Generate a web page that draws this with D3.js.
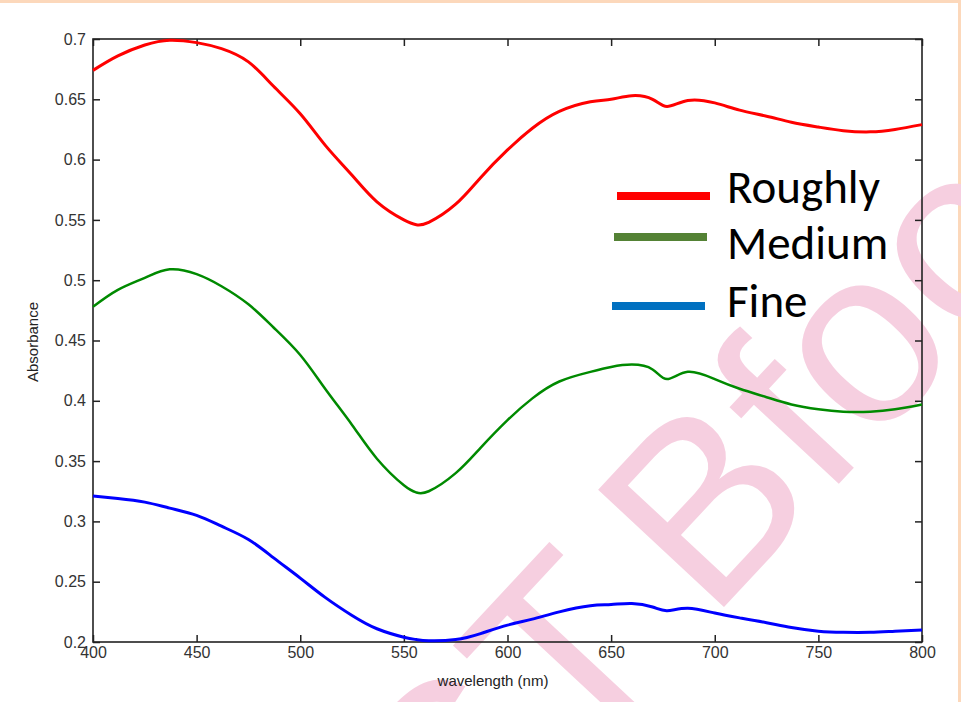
<!DOCTYPE html>
<html>
  <head>
    <meta charset="UTF-8" />
    <script src="https://d3js.org/d3.v7.min.js"></script>
    <style>
      body { margin: 0; background: #fff; }
    </style>
  </head>
  <body>
    <div id="chart"></div>
    <script>
      // data
      const wavelength = [400, 412, 425, 437, 450, 462, 475, 487, 500, 512, 525, 537, 550, 556, 562, 575, 587, 600, 612, 625, 640, 650, 660, 670, 677, 687, 700, 712, 725, 737, 750, 762, 775, 787, 800];
      const roughly = [0.674, 0.686, 0.695, 0.699, 0.697, 0.692, 0.681, 0.661, 0.638, 0.612, 0.587, 0.565, 0.550, 0.546, 0.548, 0.563, 0.585, 0.608, 0.626, 0.640, 0.648, 0.650, 0.653, 0.650, 0.644, 0.649, 0.647, 0.641, 0.636, 0.631, 0.627, 0.624, 0.623, 0.625, 0.629];
      const medium = [0.478, 0.492, 0.502, 0.509, 0.505, 0.495, 0.480, 0.461, 0.438, 0.410, 0.380, 0.352, 0.330, 0.324, 0.325, 0.340, 0.361, 0.384, 0.402, 0.416, 0.424, 0.428, 0.430, 0.426, 0.418, 0.424, 0.418, 0.410, 0.403, 0.397, 0.393, 0.391, 0.391, 0.393, 0.397];
      const fine = [0.321, 0.319, 0.316, 0.311, 0.305, 0.296, 0.285, 0.270, 0.253, 0.237, 0.222, 0.211, 0.204, 0.202, 0.201, 0.202, 0.207, 0.214, 0.219, 0.225, 0.230, 0.231, 0.232, 0.229, 0.226, 0.228, 0.224, 0.220, 0.216, 0.212, 0.209, 0.208, 0.208, 0.209, 0.210];

      const seriesNames = ["Roughly", "Medium", "Fine"];
      const xTicks = [400, 450, 500, 550, 600, 650, 700, 750, 800];
      const yTicks = [0.2, 0.25, 0.3, 0.35, 0.4, 0.45, 0.5, 0.55, 0.6, 0.65, 0.7];

      const lineColors = ["#ff0000", "#008a00", "#0000ff"];
      const legendColors = ["#ff0000", "#548235", "#0070c0"];
      const lineWidths = [3, 2.5, 3];

      const W = 961, H = 702;
      const margin = { top: 39, right: 39, bottom: 60, left: 93 };
      const width = W - margin.left - margin.right,
        height = H - margin.top - margin.bottom;

      const svg = d3.select("#chart").append("svg")
        .attr("width", W).attr("height", H);

      // peach frame of the slide
      svg.append("rect").attr("x", 0).attr("y", 0).attr("width", W).attr("height", 3).attr("fill", "#fcd8bb");
      svg.append("rect").attr("x", 958).attr("y", 0).attr("width", 3).attr("height", H).attr("fill", "#fcd8bb");

      // watermark, letters placed one by one along a rotated baseline
      const wm = svg.append("g").attr("transform", "translate(461,889) rotate(-47)");
      const wmLetters = ["S", "T", "B", "f", "o", "o"];
      const wmOffsets = [0, 167, 365, 532, 601, 740];
      wmLetters.forEach((c, i) => {
        wm.append("text")
          .attr("x", wmOffsets[i]).attr("y", 0)
          .attr("font-family", "Liberation Sans, Arial, sans-serif")
          .attr("font-size", 250)
          .attr("fill", "#f6cfe0")
          .text(c);
      });

      const g = svg.append("g").attr("transform", `translate(${margin.left},${margin.top})`);

      const x = d3.scaleLinear().domain([400, 800]).range([0, width]);
      const y = d3.scaleLinear().domain([0.2, 0.7]).range([height, 0]);

      const tickFont = "Liberation Sans, Arial, sans-serif";

      const xAxis = g.append("g").attr("transform", `translate(0,${height})`)
        .call(d3.axisBottom(x).tickValues(xTicks).tickSizeInner(-7).tickSizeOuter(0).tickPadding(5).tickFormat(d3.format("d")));
      const yAxis = g.append("g")
        .call(d3.axisLeft(y).tickValues(yTicks).tickSizeInner(-7).tickSizeOuter(0).tickPadding(7).tickFormat(d => String(+d.toFixed(2))));
      const topAxis = g.append("g")
        .call(d3.axisTop(x).tickValues(xTicks).tickSizeInner(-7).tickSizeOuter(0).tickFormat(""));
      const rightAxis = g.append("g").attr("transform", `translate(${width},0)`)
        .call(d3.axisRight(y).tickValues(yTicks).tickSizeInner(-7).tickSizeOuter(0).tickFormat(""));

      [xAxis, yAxis, topAxis, rightAxis].forEach(a => {
        a.select(".domain").remove();
        a.selectAll("line").attr("stroke", "#222").attr("stroke-width", 1.5);
        a.selectAll("text").attr("font-family", tickFont).attr("font-size", 16).attr("fill", "#333");
      });

      g.append("rect").attr("width", width).attr("height", height)
        .attr("fill", "none").attr("stroke", "#222").attr("stroke-width", 1.6);

      // axis titles
      g.append("text").attr("x", 400).attr("y", height + 44)
        .attr("text-anchor", "middle").attr("font-family", tickFont).attr("font-size", 15).attr("fill", "#222")
        .text("wavelength (nm)");
      svg.append("text").attr("transform", "translate(38,342) rotate(-90)")
        .attr("text-anchor", "middle").attr("font-family", tickFont).attr("font-size", 15).attr("fill", "#222")
        .text("Absorbance");

      // curves
      const series = [roughly, medium, fine];
      const line = d3.line().x((d, i) => x(wavelength[i])).y(d => y(d)).curve(d3.curveNatural);
      series.forEach((s, k) => {
        g.append("path").datum(s)
          .attr("d", line)
          .attr("fill", "none")
          .attr("stroke", lineColors[k])
          .attr("stroke-width", lineWidths[k]);
      });

      // legend
      const legendY = [196, 237, 306];
      const legendTextY = [203, 259, 317];
      const legendX = [617, 614, 612];
      seriesNames.forEach((name, k) => {
        svg.append("line")
          .attr("x1", legendX[k]).attr("x2", legendX[k] + 93)
          .attr("y1", legendY[k]).attr("y2", legendY[k])
          .attr("stroke", legendColors[k]).attr("stroke-width", 8);
        svg.append("text")
          .attr("x", 727).attr("y", legendTextY[k])
          .attr("font-family", "Carlito, 'Open Sans', sans-serif")
          .attr("font-size", 47).attr("fill", "#000")
          .text(name);
      });
    </script>
  </body>
</html>
